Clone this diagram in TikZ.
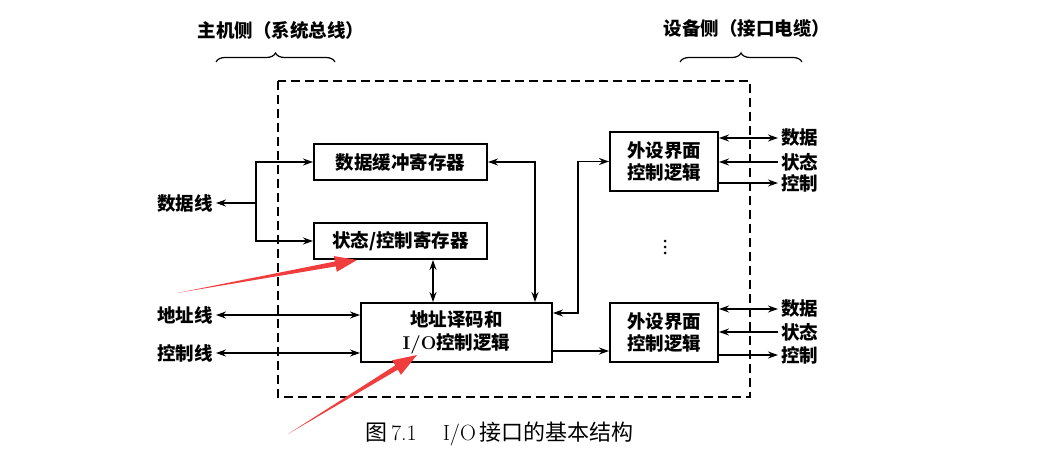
\documentclass[tikz,border=0pt]{standalone}
\usepackage{fontspec}
\newfontfamily\cjk{Noto Sans CJK SC}
\usetikzlibrary{arrows.meta, calc, decorations.pathreplacing}

\begin{document}
\begin{tikzpicture}[x=1pt, y=-1pt, >={Stealth[length=10pt,width=7pt]},
    every node/.style={font=\cjk\bfseries\fontsize{18.5}{22.5}\selectfont},
    box/.style={draw, line width=2pt, inner sep=0pt, align=center},
    link/.style={line width=1.3pt},
    lab/.style={inner sep=3pt},
    pointer/.style={fill={rgb,255:red,240;green,62;blue,62}}]
        \useasboundingbox (0,0) rectangle (1059,468);

        % Khung giao diện (nét đứt)
        \draw[dashed, dash pattern=on 9pt off 5pt, line width=1.4pt] (278,81) rectangle (750,397);

        % Hai phía: chủ và thiết bị
        \node (host) at (281,30) {主机侧（系统总线）};
        \node (dev) at (747,28) {设备侧（接口电缆）};
        \draw[line width=1.2pt, decorate, decoration={brace, amplitude=9pt}] (216,62) -- (335,62);
        \draw[line width=1.2pt, decorate, decoration={brace, amplitude=9pt}] (680,62) -- (802,62);

        % Các khối bên trong
        \node[box, minimum width=173, minimum height=36] (buf) at (400.5,162) {数据缓冲寄存器};
        \node[box, minimum width=173, minimum height=36] (stat) at (400.5,241) {状态/控制寄存器};
        \node[box, minimum width=191, minimum height=59] (addr) at (456.5,332.5) {地址译码和\\{\rmfamily\bfseries I/O}控制逻辑};
        \node[box, minimum width=108, minimum height=59] (per1) at (664,161.5) {外设界面\\控制逻辑};
        \node[box, minimum width=108, minimum height=59] (per2) at (664,332.5) {外设界面\\控制逻辑};
        \fill (665,241) circle (1.5pt) (665,247) circle (1.5pt) (665,253) circle (1.5pt);

        % Đường phía hệ thống
        \node[lab] (dline) at (185,203) {数据线};
        \node[lab] (aline) at (185,315) {地址线};
        \node[lab] (cline) at (185,353) {控制线};
        \coordinate (fork) at (256,203);
        \draw[link, ->] (fork) -- (dline.east);
        \draw[link, ->] (fork) |- (buf.west);
        \draw[link, ->] (fork) |- (stat.west);
        \draw[link, <->] (aline.east) -- (aline.east -| addr.west);
        \draw[link, <->] (cline.east) -- (cline.east -| addr.west);

        % Đường nội bộ
        \draw[link, <->] (stat.south -| 433,0) -- (addr.north -| 433,0);
        \draw[link, <->] (buf.east) -| (addr.north -| 535,0);
        \draw[link, <->] (addr.east |- 0,313) -- ++(25,0) |- (per1.west);
        \draw[link, ->] (addr.east |- 0,351) -- (per2.west |- 0,351);

        % Đường phía thiết bị
        \node[lab, anchor=west] (d1) at (778,138) {数据};
        \node[lab, anchor=west] (s1) at (778,162) {状态};
        \node[lab, anchor=west] (c1) at (778,183) {控制};
        \draw[link, <->] (per1.east |- d1) -- (d1.west);
        \draw[link, ->] (s1.west) -- (per1.east |- s1);
        \draw[link, ->] (per1.east |- c1) -- (c1.west);
        \node[lab, anchor=west] (d2) at (778,309) {数据};
        \node[lab, anchor=west] (s2) at (778,332) {状态};
        \node[lab, anchor=west] (c2) at (778,355) {控制};
        \draw[link, <->] (per2.east |- d2) -- (d2.west);
        \draw[link, ->] (s2.west) -- (per2.east |- s2);
        \draw[link, ->] (per2.east |- c2) -- (c2.west);

        % Chú thích hình
        \node[font=\cjk\fontsize{22}{26}\selectfont] (cap) at (499.5,434) {图\,{\rmfamily 7.1}\hspace{26pt}{\rmfamily I/O}\,接口的基本结构};

        % Mũi tên đỏ
        \coordinate (r1a) at (177,293);
        \coordinate (r1b) at (357,260);
        \coordinate (h1) at ($(r1b)!22pt!(r1a)$);
        \fill[pointer] (r1a) -- ($(h1)!2.5pt!90:(r1a)$) -- ($(h1)!8pt!90:(r1a)$) -- (r1b)
            -- ($(h1)!8pt!-90:(r1a)$) -- ($(h1)!2.5pt!-90:(r1a)$) -- cycle;
        \coordinate (r2a) at (288,434);
        \coordinate (r2b) at (417,355);
        \coordinate (h2) at ($(r2b)!24pt!(r2a)$);
        \fill[pointer] (r2a) -- ($(h2)!2.5pt!90:(r2a)$) -- ($(h2)!8.5pt!90:(r2a)$) -- (r2b)
            -- ($(h2)!8.5pt!-90:(r2a)$) -- ($(h2)!2.5pt!-90:(r2a)$) -- cycle;
    \end{tikzpicture}
\end{document}
